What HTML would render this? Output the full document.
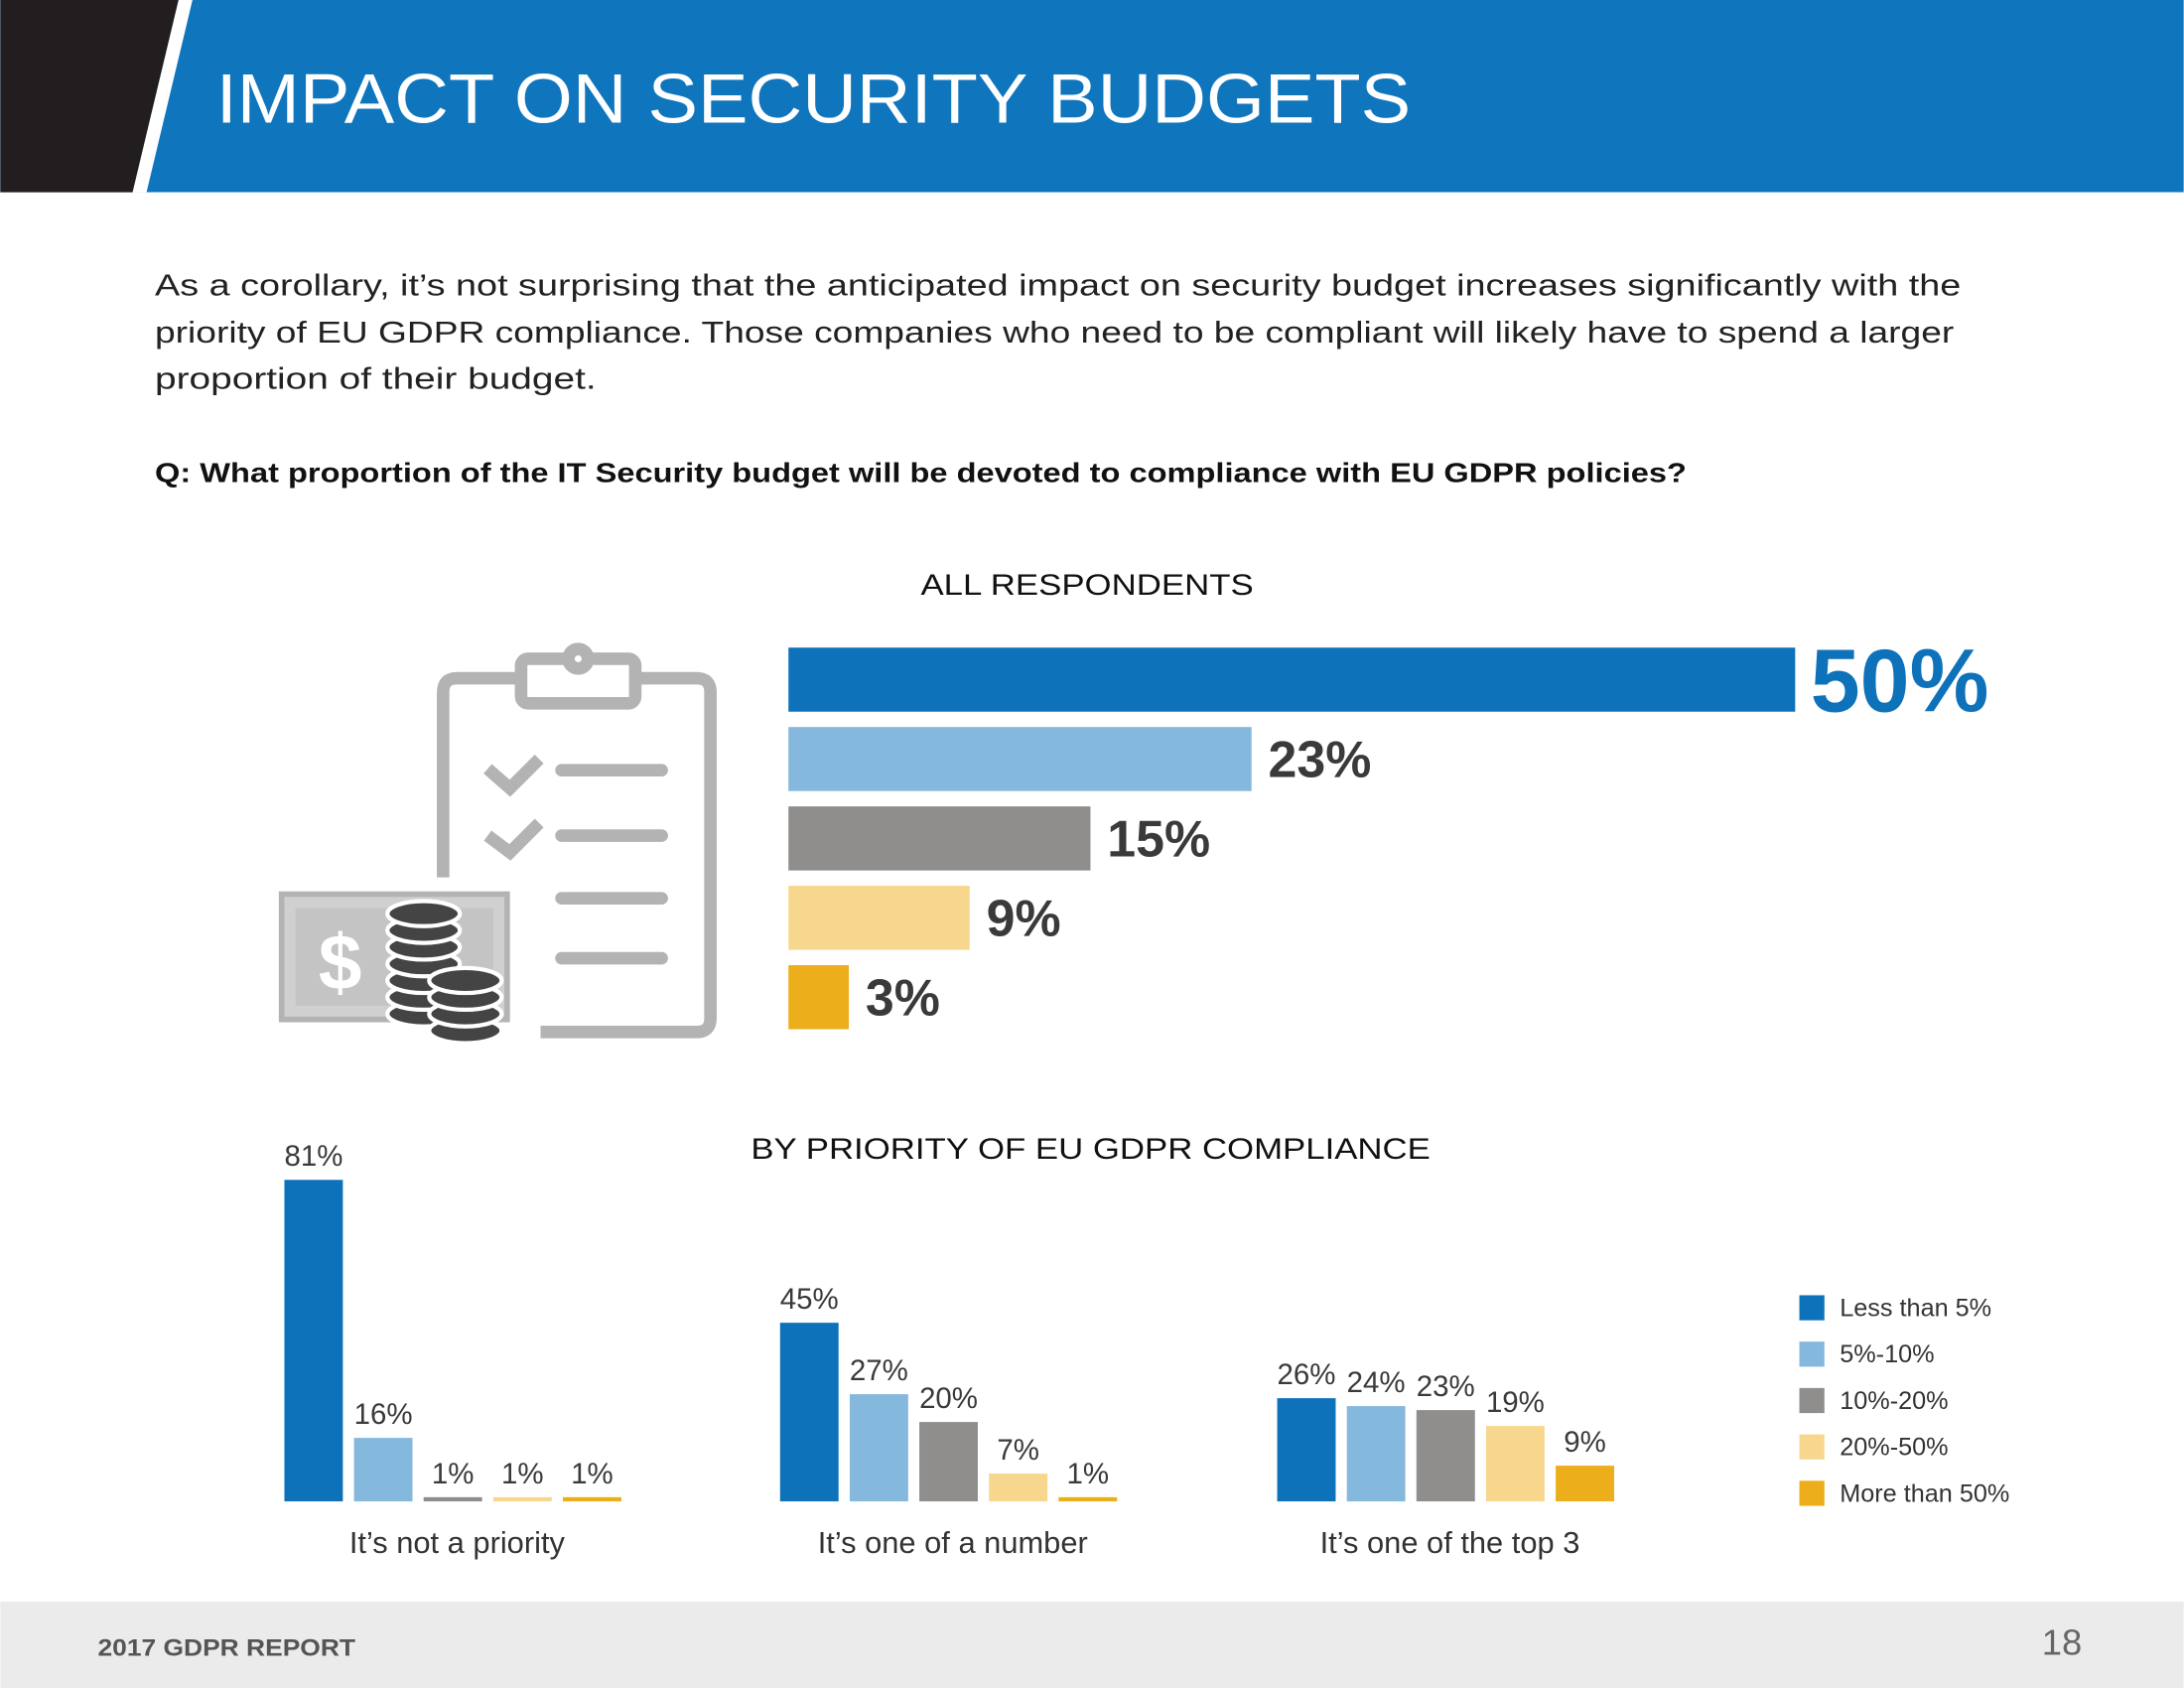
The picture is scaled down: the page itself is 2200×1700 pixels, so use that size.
<!DOCTYPE html>
<html><head><meta charset="utf-8"><style>
html,body{margin:0;padding:0;background:#fff;}
svg{display:block;font-family:"Liberation Sans",sans-serif;}
</style></head><body>
<svg id="page" width="2200" height="1700" viewBox="0 0 1568 1212" xmlns="http://www.w3.org/2000/svg">
<rect x="0" y="0" width="1568" height="138" fill="#0F75BC"/>
<polygon points="0,0 128,0 95,138 0,138" fill="#221E1F"/>
<polygon points="128,0 138,0 105,138 95,138" fill="#fff"/>
<text x="155" y="88" fill="#fff" font-size="50" font-weight="500" textLength="858" lengthAdjust="spacingAndGlyphs">IMPACT ON SECURITY BUDGETS</text>
<g font-size="21.5" fill="#222">
<text x="111" y="212" textLength="1297" lengthAdjust="spacingAndGlyphs">As a corollary, it’s not surprising that the anticipated impact on security budget increases significantly with the</text>
<text x="111" y="246" textLength="1292" lengthAdjust="spacingAndGlyphs">priority of EU GDPR compliance. Those companies who need to be compliant will likely have to spend a larger</text>
<text x="111" y="279" textLength="317" lengthAdjust="spacingAndGlyphs">proportion of their budget.</text>
</g>
<text x="111" y="346" font-size="19.5" font-weight="bold" fill="#111" textLength="1100" lengthAdjust="spacingAndGlyphs">Q: What proportion of the IT Security budget will be devoted to compliance with EU GDPR policies?</text>
<text x="661" y="427" font-size="21" fill="#111" textLength="239" lengthAdjust="spacingAndGlyphs">ALL RESPONDENTS</text>

<g fill="none" stroke="#B3B3B3" stroke-width="9">
<path d="M388,741 L500,741 Q510,741 510,731 L510,497 Q510,487 500,487 L460,487"/>
<path d="M370,487 L328,487 Q318,487 318,497 L318,630"/>
<rect x="374" y="473" width="82" height="32" rx="5" fill="#fff"/>
<circle cx="415" cy="473" r="7" fill="#fff"/>
<path d="M350,552 L366,566 L387,545"/><path d="M350,600 L366,612 L387,591"/>
<path d="M403,553 L475,553 M403,600 L475,600 M403,645 L475,645 M403,688 L475,688" stroke-linecap="round"/>
</g>
<g>
<rect x="202" y="642" width="162" height="90" fill="#D0D0D0" stroke="#B3B3B3" stroke-width="4"/>
<rect x="212" y="652" width="142" height="70" fill="#C4C4C4"/>
<text x="244" y="710" text-anchor="middle" font-size="56" font-weight="bold" fill="#fff">$</text>
<g fill="#444" stroke="#fff" stroke-width="3">
<ellipse cx="304" cy="728" rx="26" ry="9"/><ellipse cx="304" cy="716" rx="26" ry="9"/><ellipse cx="304" cy="704" rx="26" ry="9"/><ellipse cx="304" cy="692" rx="26" ry="9"/><ellipse cx="304" cy="680" rx="26" ry="9"/><ellipse cx="304" cy="668" rx="26" ry="9"/><ellipse cx="304" cy="656" rx="26" ry="9"/>
<ellipse cx="334" cy="740" rx="26" ry="9"/><ellipse cx="334" cy="728" rx="26" ry="9"/><ellipse cx="334" cy="716" rx="26" ry="9"/><ellipse cx="334" cy="704" rx="26" ry="9"/>
</g></g>

<g id="topChart"></g>
<text x="539" y="832" font-size="21" fill="#111" textLength="488" lengthAdjust="spacingAndGlyphs">BY PRIORITY OF EU GDPR COMPLIANCE</text>
<defs><clipPath id="catclip"><rect x="0" y="1080" width="1568" height="45"/></clipPath></defs>
<g id="bottomChart"></g>
<g id="legend"></g>

<rect x="0" y="1150" width="1568" height="62" fill="#EBEBEB"/>
<text x="70" y="1189" font-size="17" font-weight="bold" fill="#555" textLength="185" lengthAdjust="spacingAndGlyphs">2017 GDPR REPORT</text>
<text x="1495" y="1188" text-anchor="end" font-size="26" fill="#666">18</text>
</svg>
<script>
const seriesNames = ["Less than 5%","5%-10%","10%-20%","20%-50%","More than 50%"];
const colors = ["#0E72BA","#85B8DD","#8F8E8C","#F7D78E","#EDAE1C"];
const allValues = [50,23,15,9,3];
const categories = ["It’s not a priority|for us","It’s one of a number|of priorities","It’s one of the top 3|priorities for us"];
const groupNotPriority = [81,16,1,1,1];
const groupOneOfNumber = [45,27,20,7,1];
const groupTop3 = [26,24,23,19,9];
const groups = [groupNotPriority, groupOneOfNumber, groupTop3];

const NS="http://www.w3.org/2000/svg";
function mk(tag, attrs, parent){const e=document.createElementNS(NS,tag);for(const k in attrs)e.setAttribute(k,attrs[k]);parent.appendChild(e);return e;}

// top chart
const topG=document.getElementById('topChart');
const xTop=v=>v*14.46;
allValues.forEach((v,i)=>{
  const y=465+i*57;
  const r=mk('rect',{x:566,y:y,width:xTop(v),height:46,fill:colors[i]},topG);
  
  
  const big=i===0;
  const t=mk('text',{x:566+xTop(v)+(big?11:12),y:y+(big?46:36),'font-size':big?64:37,'font-weight':'bold',fill:big?'#0E72BA':'#3A3A3A'},topG);
  t.textContent=v+'%';
  
  
});

// bottom chart
const bot=document.getElementById('bottomChart');
const base=1078;
const yScale=v=>Math.max(3,v*2.85);
const groupX=[204,560,917];
groups.forEach((vals,g)=>{
  vals.forEach((v,i)=>{
    const x=groupX[g]+i*50, h=yScale(v);
    const r=mk('rect',{x:x,y:base-h,width:42,height:h,fill:colors[i]},bot);
    
    
    const t=mk('text',{x:x+21,y:base-h-10,'text-anchor':'middle','font-size':21,fill:'#3A3A3A'},bot);
    t.textContent=v+'%';
    
    
  });
  const parts=categories[g].split('|');
  const cx=groupX[g]+124;
  const c=mk('text',{x:cx,y:1115,'text-anchor':'middle','font-size':22,fill:'#333','clip-path':'url(#catclip)'},bot);
  
  
  const s1=mk('tspan',{x:cx,dy:0},c); s1.textContent=parts[0];
  const s2=mk('tspan',{x:cx,dy:26},c); s2.textContent=parts[1];
});

// legend
const lg=document.getElementById('legend');
seriesNames.forEach((n,i)=>{
  const y=930+i*33.3;
  const r=mk('rect',{x:1292,y:y,width:18,height:18,fill:colors[i]},lg);
  
  
  const t=mk('text',{x:1321,y:y+15,'font-size':18,fill:'#333'},lg);
  t.textContent=n;
  
  
});
</script>
</body></html>
